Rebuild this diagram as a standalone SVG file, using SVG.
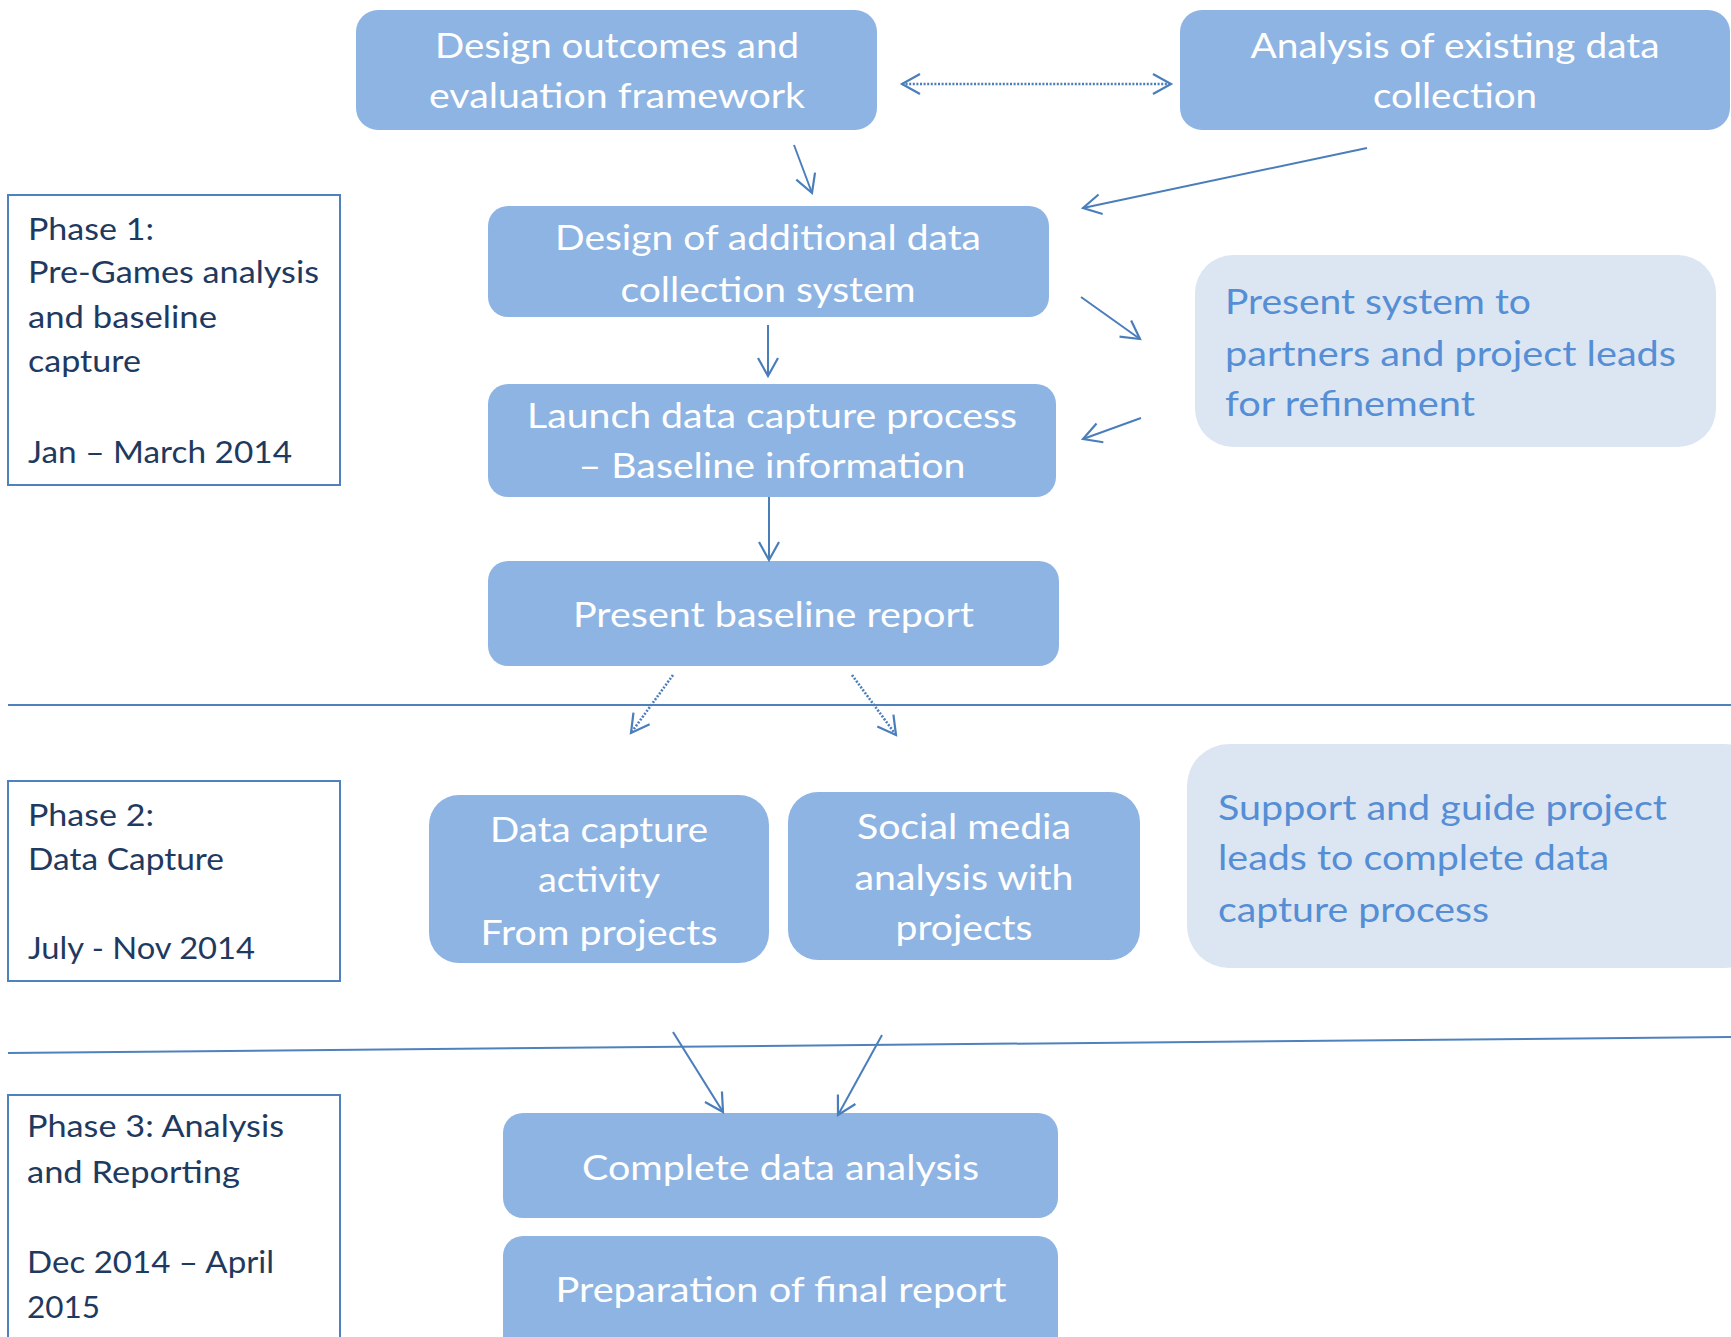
<svg xmlns="http://www.w3.org/2000/svg" width="1731" height="1337" viewBox="0 0 1731 1337">
  <style>
    .node rect { fill: #8eb4e3; }
    .node text { fill: #ffffff; font-family: Lato, "Open Sans", sans-serif; font-size: 35px; text-anchor: middle; }
    .soft rect { fill: #dce6f2; }
    .soft text { fill: #558ed5; font-family: Lato, "Open Sans", sans-serif; font-size: 34px; }
    .phase rect { fill: none; stroke: #4f81bd; stroke-width: 2; }
    .phase text { fill: #1f3a60; font-family: Lato, "Open Sans", sans-serif; font-size: 30px; }
    .conn { fill: none; stroke: #4a7ebb; stroke-width: 2; }
    .dot { stroke-width: 2.6; stroke-dasharray: 2 1.6; }
    .rule { stroke: #4f81bd; stroke-width: 2; fill: none; }
  </style>
  <defs>
    <marker id="arr" markerUnits="userSpaceOnUse" viewBox="-21 -12 24 24" refX="0" refY="0" markerWidth="24" markerHeight="24" orient="auto-start-reverse">
      <path d="M-18,-10 L0,0 L-18,10" fill="none" stroke="#4a7ebb" stroke-width="2.2"/>
    </marker>
  </defs>
  <rect width="1731" height="1337" fill="#ffffff"/>

  <!-- phase separators -->
  <g id="separators">
    <line class="rule" x1="8" y1="705" x2="1731" y2="705"/>
    <line class="rule" x1="8" y1="1053" x2="1731" y2="1037"/>
  </g>

  <!-- phase labels -->
  <g id="phase1" class="phase">
    <rect x="8" y="195" width="332" height="290"/>
    <text x="28" y="240" textLength="126" lengthAdjust="spacingAndGlyphs">Phase 1:</text>
    <text x="28" y="283" textLength="291" lengthAdjust="spacingAndGlyphs">Pre-Games analysis</text>
    <text x="28" y="328" textLength="189" lengthAdjust="spacingAndGlyphs">and baseline</text>
    <text x="28" y="372" textLength="113" lengthAdjust="spacingAndGlyphs">capture</text>
    <text x="28" y="463" textLength="264" lengthAdjust="spacingAndGlyphs">Jan – March 2014</text>
  </g>
  <g id="phase2" class="phase">
    <rect x="8" y="781" width="332" height="200"/>
    <text x="28" y="826" textLength="126" lengthAdjust="spacingAndGlyphs">Phase 2:</text>
    <text x="28" y="870" textLength="196" lengthAdjust="spacingAndGlyphs">Data Capture</text>
    <text x="28" y="959" textLength="227" lengthAdjust="spacingAndGlyphs">July - Nov 2014</text>
  </g>
  <g id="phase3" class="phase">
    <rect x="8" y="1095" width="332" height="260"/>
    <text x="27" y="1137" textLength="257" lengthAdjust="spacingAndGlyphs">Phase 3: Analysis</text>
    <text x="27" y="1183" textLength="213" lengthAdjust="spacingAndGlyphs">and Reporting</text>
    <text x="27" y="1273" textLength="247" lengthAdjust="spacingAndGlyphs">Dec 2014 – April</text>
    <text x="27" y="1318" textLength="73" lengthAdjust="spacingAndGlyphs">2015</text>
  </g>

  <!-- process steps -->
  <g id="design-outcomes" class="node">
    <rect x="356" y="10" width="521" height="120" rx="22"/>
    <text x="617" y="58" textLength="364" lengthAdjust="spacingAndGlyphs">Design outcomes and</text>
    <text x="617" y="108" textLength="376" lengthAdjust="spacingAndGlyphs">evaluation framework</text>
  </g>
  <g id="existing-analysis" class="node">
    <rect x="1180" y="10" width="550" height="120" rx="22"/>
    <text x="1455" y="58" textLength="409" lengthAdjust="spacingAndGlyphs">Analysis of existing data</text>
    <text x="1455" y="108" textLength="164" lengthAdjust="spacingAndGlyphs">collection</text>
  </g>
  <g id="design-collection" class="node">
    <rect x="488" y="206" width="561" height="111" rx="20"/>
    <text x="768" y="250" textLength="426" lengthAdjust="spacingAndGlyphs">Design of additional data</text>
    <text x="768" y="302" textLength="295" lengthAdjust="spacingAndGlyphs">collection system</text>
  </g>
  <g id="present-system" class="soft">
    <rect x="1195" y="255" width="521" height="192" rx="38"/>
    <text x="1225" y="314" textLength="306" lengthAdjust="spacingAndGlyphs">Present system to</text>
    <text x="1225" y="366" textLength="451" lengthAdjust="spacingAndGlyphs">partners and project leads</text>
    <text x="1225" y="416" textLength="250" lengthAdjust="spacingAndGlyphs">for refinement</text>
  </g>
  <g id="launch-capture" class="node">
    <rect x="488" y="384" width="568" height="113" rx="20"/>
    <text x="772" y="428" textLength="490" lengthAdjust="spacingAndGlyphs">Launch data capture process</text>
    <text x="772" y="478" textLength="387" lengthAdjust="spacingAndGlyphs">– Baseline information</text>
  </g>
  <g id="baseline-report" class="node">
    <rect x="488" y="561" width="571" height="105" rx="20"/>
    <text x="773.5" y="627" textLength="401" lengthAdjust="spacingAndGlyphs">Present baseline report</text>
  </g>
  <g id="capture-activity" class="node">
    <rect x="429" y="795" width="340" height="168" rx="30"/>
    <text x="599" y="842" textLength="218" lengthAdjust="spacingAndGlyphs">Data capture</text>
    <text x="599" y="892" textLength="122" lengthAdjust="spacingAndGlyphs">activity</text>
    <text x="599" y="945" textLength="237" lengthAdjust="spacingAndGlyphs">From projects</text>
  </g>
  <g id="social-media" class="node">
    <rect x="788" y="792" width="352" height="168" rx="30"/>
    <text x="964" y="839" textLength="214" lengthAdjust="spacingAndGlyphs">Social media</text>
    <text x="964" y="890" textLength="219" lengthAdjust="spacingAndGlyphs">analysis with</text>
    <text x="964" y="940" textLength="137" lengthAdjust="spacingAndGlyphs">projects</text>
  </g>
  <g id="support-leads" class="soft">
    <rect x="1187" y="744" width="580" height="224" rx="42"/>
    <text x="1218" y="820" textLength="449" lengthAdjust="spacingAndGlyphs">Support and guide project</text>
    <text x="1218" y="870" textLength="391" lengthAdjust="spacingAndGlyphs">leads to complete data</text>
    <text x="1218" y="922" textLength="271" lengthAdjust="spacingAndGlyphs">capture process</text>
  </g>
  <g id="data-analysis" class="node">
    <rect x="503" y="1113" width="555" height="105" rx="20"/>
    <text x="780.5" y="1180" textLength="397" lengthAdjust="spacingAndGlyphs">Complete data analysis</text>
  </g>
  <g id="final-report" class="node">
    <rect x="503" y="1236" width="555" height="130" rx="20"/>
    <text x="781" y="1302" textLength="451" lengthAdjust="spacingAndGlyphs">Preparation of final report</text>
  </g>

  <!-- connectors -->
  <g id="connectors">
    <line class="conn dot" x1="902" y1="84" x2="1171" y2="84" marker-start="url(#arr)" marker-end="url(#arr)"/>
    <line class="conn" x1="794" y1="145" x2="812" y2="193" marker-end="url(#arr)"/>
    <line class="conn" x1="1367" y1="148" x2="1083" y2="208" marker-end="url(#arr)"/>
    <line class="conn" x1="768" y1="325" x2="768" y2="376" marker-end="url(#arr)"/>
    <line class="conn" x1="1081" y1="297" x2="1140" y2="339" marker-end="url(#arr)"/>
    <line class="conn" x1="1141" y1="418" x2="1083" y2="439" marker-end="url(#arr)"/>
    <line class="conn" x1="769" y1="497" x2="769" y2="560" marker-end="url(#arr)"/>
    <line class="conn dot" x1="673" y1="675" x2="631" y2="733" marker-end="url(#arr)"/>
    <line class="conn dot" x1="852" y1="675" x2="896" y2="735" marker-end="url(#arr)"/>
    <line class="conn" x1="673" y1="1032" x2="723" y2="1112" marker-end="url(#arr)"/>
    <line class="conn" x1="882" y1="1035" x2="838" y2="1115" marker-end="url(#arr)"/>
  </g>
</svg>
